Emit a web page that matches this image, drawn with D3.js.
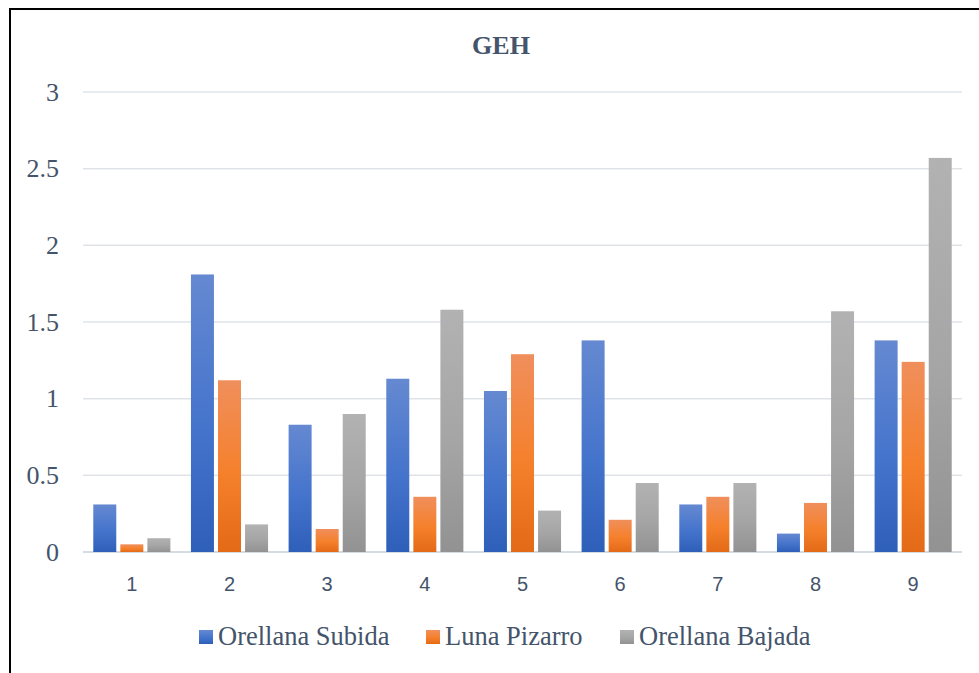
<!DOCTYPE html>
<html>
<head>
<meta charset="utf-8">
<script src="https://cdn.jsdelivr.net/npm/d3@7"></script>
<style>
  body { margin: 0; background: #fff; }
  svg { display: block; }
  .serif { font-family: 'Liberation Serif', 'Times New Roman', 'DejaVu Serif', serif; }
  .sans { font-family: 'Liberation Sans', Arial, 'DejaVu Sans', sans-serif; }
</style>
</head>
<body>
<div id="chart"></div>
<script>
const categories = ['1', '2', '3', '4', '5', '6', '7', '8', '9']
const seriesNames = ['Orellana Subida', 'Luna Pizarro', 'Orellana Bajada']
const orellanaSubida = [0.31, 1.81, 0.83, 1.13, 1.05, 1.38, 0.31, 0.12, 1.38]
const lunaPizarro = [0.05, 1.12, 0.15, 0.36, 1.29, 0.21, 0.36, 0.32, 1.24]
const orellanaBajada = [0.09, 0.18, 0.90, 1.58, 0.27, 0.45, 0.45, 1.57, 2.57]
const yTicks = [0, 0.5, 1, 1.5, 2, 2.5, 3]

const width = 979
const height = 673
const margin = { top: 92, right: 17, bottom: 121, left: 83 }
const textColor = '#44546a'

// gradient stops per series: top, middle, bottom
const gradients = [
  ['#6589d1', '#4574cc', '#2e5fb9'],
  ['#f08f5c', '#f5802b', '#e36a17'],
  ['#b2b2b2', '#a5a5a5', '#929292'],
]

const rows = categories.map((c, i) => ({
  cat: c,
  values: [orellanaSubida[i], lunaPizarro[i], orellanaBajada[i]],
}))

const svg = d3.select('#chart').append('svg')
  .attr('width', width)
  .attr('height', height)

const defs = svg.append('defs')
gradients.forEach((g, i) => {
  const lg = defs.append('linearGradient')
    .attr('id', 'grad' + i)
    .attr('x1', 0).attr('y1', 0).attr('x2', 0).attr('y2', 1)
  lg.append('stop').attr('offset', '0%').attr('stop-color', g[0])
  lg.append('stop').attr('offset', '55%').attr('stop-color', g[1])
  lg.append('stop').attr('offset', '100%').attr('stop-color', g[2])
})

// outer frame
svg.append('rect')
  .attr('x', 10).attr('y', 9)
  .attr('width', 1000).attr('height', 700)
  .attr('fill', 'none')
  .attr('stroke', '#000')
  .attr('stroke-width', 2)

const x0 = d3.scaleBand()
  .domain(categories)
  .range([margin.left, width - margin.right])

const x1 = d3.scaleBand()
  .domain(d3.range(seriesNames.length))
  .range([0, x0.bandwidth()])
  .paddingInner(0.15)
  .paddingOuter(0.38)

const y = d3.scaleLinear()
  .domain([0, 3])
  .range([height - margin.bottom, margin.top])

// title
svg.append('text')
  .attr('class', 'serif')
  .attr('x', 501)
  .attr('y', 54)
  .attr('text-anchor', 'middle')
  .attr('fill', textColor)
  .attr('font-weight', 'bold')
  .attr('font-size', 26)
  .text('GEH')

// gridlines
svg.append('g')
  .selectAll('line')
  .data(yTicks)
  .join('line')
    .attr('x1', margin.left)
    .attr('x2', width - margin.right)
    .attr('y1', d => y(d))
    .attr('y2', d => y(d))
    .attr('stroke', d => d === 0 ? '#d5dbe3' : '#dfe3e8')
    .attr('stroke-width', d => d === 0 ? 2 : 1.5)

// y axis labels
const yAxis = svg.append('g')
  .attr('transform', `translate(${margin.left},0)`)
  .call(d3.axisLeft(y).tickValues(yTicks).tickSize(0).tickPadding(24).tickFormat(d3.format('')))
  .attr('font-family', null)
  .attr('font-size', null)
yAxis.select('.domain').remove()
yAxis.selectAll('text')
  .attr('class', 'serif')
  .attr('fill', textColor)
  .attr('font-size', 26)

// bars
const groups = svg.append('g')
  .selectAll('g')
  .data(rows)
  .join('g')
    .attr('transform', d => `translate(${x0(d.cat)},0)`)

groups.selectAll('rect')
  .data(d => d.values.map((v, i) => ({ v, i })))
  .join('rect')
    .attr('x', d => x1(d.i))
    .attr('width', x1.bandwidth())
    .attr('y', d => y(d.v))
    .attr('height', d => y(0) - y(d.v))
    .attr('fill', d => `url(#grad${d.i})`)

// x axis labels
const xAxis = svg.append('g')
  .attr('transform', `translate(0,${y(0)})`)
  .call(d3.axisBottom(x0).tickSize(0).tickPadding(25))
  .attr('font-family', null)
  .attr('font-size', null)
xAxis.select('.domain').remove()
xAxis.selectAll('text')
  .attr('class', 'sans')
  .attr('fill', textColor)
  .attr('font-size', 20)

// legend
const legendX = [199, 426, 620]
const legend = svg.append('g')
  .selectAll('g')
  .data(seriesNames)
  .join('g')
    .attr('transform', (d, i) => `translate(${legendX[i]},630)`)

legend.append('rect')
  .attr('width', 14)
  .attr('height', 14)
  .attr('fill', (d, i) => `url(#grad${i})`)

legend.append('text')
  .attr('class', 'serif')
  .attr('x', 19)
  .attr('y', 15)
  .attr('fill', textColor)
  .attr('font-size', 26.5)
  .text(d => d)
</script>
</body>
</html>
